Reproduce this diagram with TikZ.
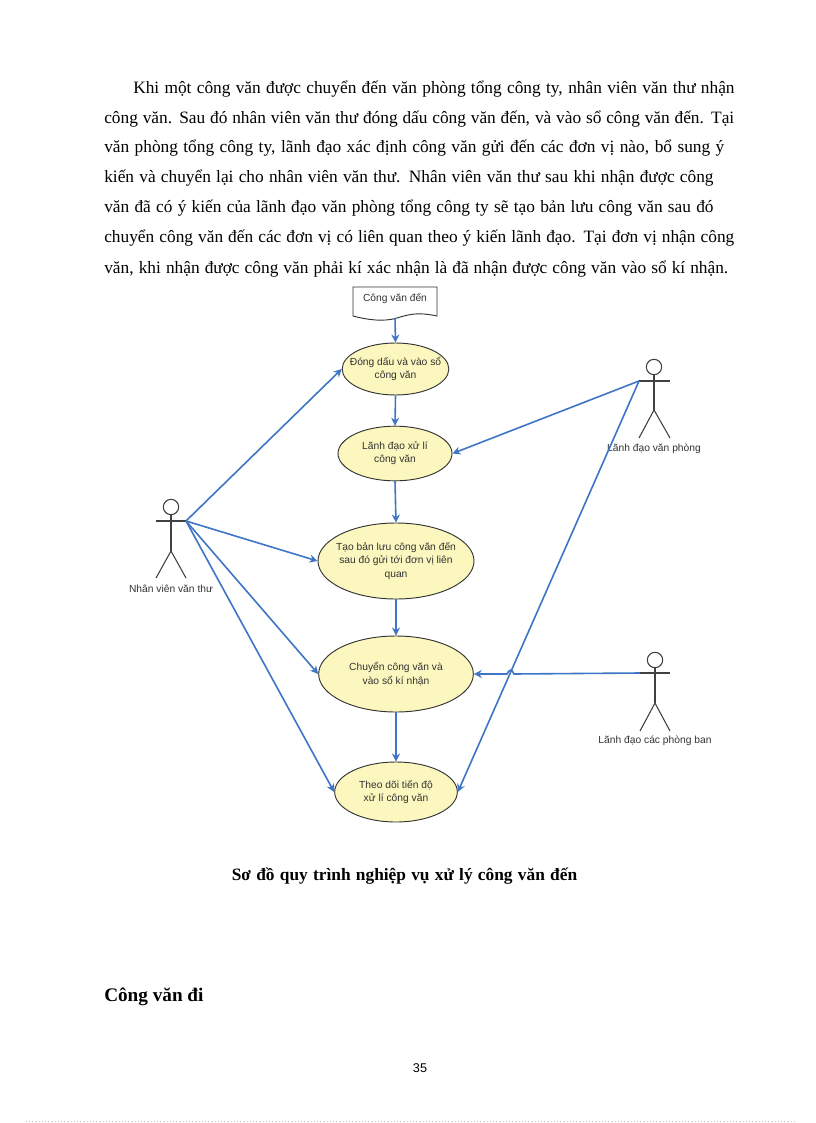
\documentclass[tikz,border=0pt]{standalone}
\usepackage{fontspec}
\setmainfont{Liberation Serif}
\newfontfamily\labelfont{Liberation Sans}
\usetikzlibrary{arrows.meta,positioning,shapes.geometric}

\definecolor{linkblue}{HTML}{3F75C6}
\definecolor{usecase}{HTML}{FBF7BE}
\newcommand{\fitline}[2]{\makebox[#1pt][s]{#2}}

\begin{document}
\begin{tikzpicture}[
  x=0.75pt,
  y=-0.75pt,
  textline/.style={
    anchor=base west,
    inner sep=0pt,
    font=\fontsize{13}{15}\selectfont
  },
  ucase/.style={
    ellipse,
    draw=black!80,
    fill=usecase,
    line width=0.7pt,
    inner xsep=-12pt,
    inner ysep=-6pt,
    align=center,
    text=black!80,
    font=\labelfont\fontsize{7.7}{10}\selectfont
  },
  actorname/.style={
    inner sep=0pt,
    text=black!80,
    font=\labelfont\fontsize{7.7}{9}\selectfont
  },
  stick/.style={
    draw=black!75,
    line width=0.8pt
  },
  link/.style={
    draw=linkblue,
    line width=1.2pt,
    -{Stealth[length=6pt,width=6pt]}
  }
]
\useasboundingbox (0,0) rectangle (816,1123);
\fill[white] (0,0) rectangle (816,1123);

% Paragraph
\node[textline] (line1) at (133,94) {\fitline{451}{Khi một công văn được chuyển đến văn phòng tổng công ty, nhân viên văn thư nhận}};
\node[textline] (line2) at (104,124) {\fitline{472.5}{công văn. Sau đó nhân viên văn thư đóng dấu công văn đến, và vào sổ công văn đến. Tại}};
\node[textline] (line3) at (104,153) {\fitline{465}{văn phòng tổng công ty, lãnh đạo xác định công văn gửi đến các đơn vị nào, bổ sung ý}};
\node[textline] (line4) at (104,183) {\fitline{457}{kiến và chuyển lại cho nhân viên văn thư. Nhân viên văn thư sau khi nhận được công}};
\node[textline] (line5) at (104,213) {\fitline{457}{văn đã có ý kiến của lãnh đạo văn phòng tổng công ty sẽ tạo bản lưu công văn sau đó}};
\node[textline] (line6) at (104,243) {\fitline{472.5}{chuyển công văn đến các đơn vị có liên quan theo ý kiến lãnh đạo. Tại đơn vị nhận công}};
\node[textline] (line7) at (104,273) {\fitline{468}{văn, khi nhận được công văn phải kí xác nhận là đã nhận được công văn vào sổ kí nhận.}};

% Document shape
\draw[draw=black!80, fill=white, line width=0.7pt] (353,287) -- (437,287) -- (437,316)
  .. controls (418,312) and (410,314) .. (397,318)
  .. controls (384,322) and (368,320) .. (353,316) -- cycle;
\node[actorname] (incoming) at (395,299) {Công văn đến};
\coordinate (incomingfoot) at (395,318);

% Use cases
\node[ucase, minimum width=80pt, minimum height=39pt] (stamp) at (395.5,369) {Đóng dấu và vào sổ\\công văn};
\node[ucase, minimum width=85.5pt, minimum height=41pt] (review) at (395,453.5) {Lãnh đạo xử lí\\công văn};
\node[ucase, minimum width=117pt, minimum height=57pt] (copy) at (396,561) {Tạo bản lưu công văn đến\\sau đó gửi tới đơn vị liên\\quan};
\node[ucase, minimum width=116pt, minimum height=57pt] (forward) at (396,674) {Chuyển công văn và\\vào sổ kí nhận};
\node[ucase, minimum width=92pt, minimum height=45pt] (track) at (396,792) {Theo dõi tiến độ\\xử lí công văn};

% Actor left
\node[circle, stick, minimum size=11.5pt, inner sep=0pt] (clerkhead) at (171,507) {};
\coordinate (clerkhandl) at (156,521);
\coordinate (clerkhand) at (186,521);
\coordinate (clerkhip) at (171,551);
\draw[stick] (clerkhandl) -- (clerkhand);
\draw[stick] (clerkhead) -- (clerkhip);
\draw[stick] (156,578) -- (clerkhip) -- (186,578);
\node[actorname] (clerkname) at (171,589) {Nhân viên văn thư};

% Actor top right
\node[circle, stick, minimum size=11.5pt, inner sep=0pt] (officehead) at (654,367) {};
\coordinate (officehand) at (639,381);
\coordinate (officehandr) at (670,381);
\coordinate (officehip) at (654,410);
\draw[stick] (officehand) -- (officehandr);
\draw[stick] (officehead) -- (officehip);
\draw[stick] (639,438) -- (officehip) -- (670,438);
\node[actorname] (officename) at (654,449) {Lãnh đạo văn phòng};

% Actor bottom right
\node[circle, stick, minimum size=11.5pt, inner sep=0pt] (depthead) at (655,660) {};
\coordinate (depthand) at (640,673);
\coordinate (depthandr) at (670,673);
\coordinate (depthip) at (655,703);
\draw[stick] (depthand) -- (depthandr);
\draw[stick] (depthead) -- (depthip);
\draw[stick] (640,731) -- (depthip) -- (670,731);
\node[actorname] (deptname) at (655,741) {Lãnh đạo các phòng ban};

% Flow
\draw[link] (incomingfoot) -- (stamp.north);
\draw[link] (stamp.south) -- (review.north);
\draw[link] (review.south) -- (copy.north);
\draw[link] (copy.south) -- (forward.north);
\draw[link] (forward.south) -- (track.north);

% Actor links
\draw[link] (clerkhand) -- (stamp.west);
\draw[link] (clerkhand) -- (copy.west);
\draw[link] (clerkhand) -- (forward.west);
\draw[link] (clerkhand) -- (track.west);
\draw[link] (officehand) -- (review.east);
\draw[link] (officehand) -- (track.east);
\coordinate (jumpin) at (514,674);
\coordinate (jumpout) at (507,674);
\draw[link] (depthand) -- (jumpin) .. controls (512,669) and (509,669) .. (jumpout) -- (forward.east);

% Caption and heading
\node[inner sep=0pt, font=\bfseries\fontsize{13}{15}\selectfont] (caption) at (404.5,876) {\fitline{259}{Sơ đồ quy trình nghiệp vụ xử lý công văn đến}};
\node[textline, font=\bfseries\fontsize{14.4}{16}\selectfont] (heading) at (104,1001) {Công văn đi};
\node[inner sep=0pt, font=\labelfont\fontsize{9.5}{11}\selectfont] (pageno) at (420,1068) {35};

% Page edge
\draw[black!25, line width=0.4pt, dotted] (26,1121.5) -- (795,1121.5);

\end{tikzpicture}
\end{document}
